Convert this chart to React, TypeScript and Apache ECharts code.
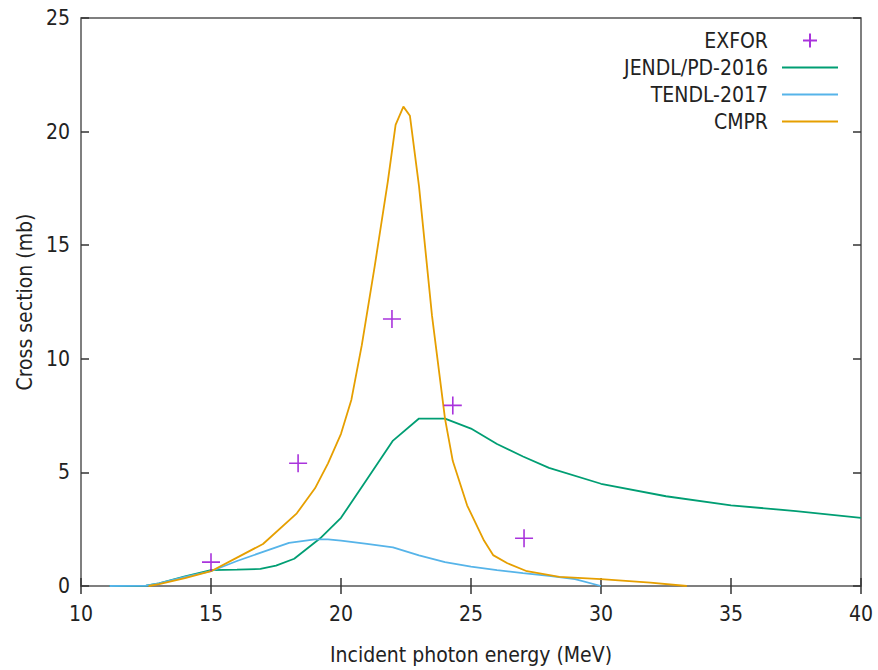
import React, { useEffect, useRef } from "react";
import * as echarts from "echarts";

const exforX = [15.0, 18.35, 21.96, 24.3, 27.04];
const exforY = [1.05, 5.4, 11.75, 7.95, 2.1];

const jendlX = [11.1, 12.5, 13, 14, 15, 16, 16.9, 17.5, 18.2, 19.2, 20, 21, 22, 23, 24, 25, 26, 27, 28, 30, 32.5, 35, 37.5, 40];
const jendlY = [0, 0.02, 0.12, 0.42, 0.7, 0.72, 0.75, 0.9, 1.2, 2.1, 3.0, 4.7, 6.4, 7.37, 7.37, 6.93, 6.25, 5.7, 5.2, 4.5, 3.95, 3.55, 3.3, 3.0];

const tendlX = [11.1, 12.5, 13, 14, 15, 16, 17, 18, 19, 19.5, 20, 21, 22, 23, 24, 25, 26, 27, 28, 29, 30];
const tendlY = [0, 0.02, 0.12, 0.4, 0.65, 1.1, 1.5, 1.9, 2.05, 2.05, 2.0, 1.85, 1.7, 1.35, 1.05, 0.85, 0.7, 0.57, 0.45, 0.3, 0.0];

const cmprX = [12.6, 13, 14, 15, 16, 17, 18.3, 19, 19.5, 20, 20.4, 20.8, 21.3, 21.8, 22.1, 22.4, 22.65, 23, 23.5, 24, 24.3, 24.85, 25.5, 25.85, 26.4, 27.15, 28.4, 30, 31.9, 33.3];
const cmprY = [0, 0.08, 0.35, 0.65, 1.25, 1.85, 3.2, 4.3, 5.4, 6.7, 8.2, 10.6, 14.1, 17.8, 20.3, 21.1, 20.7, 17.6, 11.9, 7.37, 5.5, 3.55, 2.0, 1.36, 1.0, 0.65, 0.4, 0.3, 0.15, 0];

const xTicks = { min: 10, max: 40, interval: 5 };
const yTicks = { min: 0, max: 25, interval: 5 };

const seriesNames = ["EXFOR", "JENDL/PD-2016", "TENDL-2017", "CMPR"];
const colors = ["#9400d3", "#009e73", "#56b4e9", "#e69f00"];

const zip = (xs: number[], ys: number[]) => xs.map((x, i) => [x, ys[i]]);

const FONT = "'DejaVu Sans Condensed', 'DejaVu Sans', sans-serif";
const FS = 21;
const PLUS = "path://M0,5L10,5M5,0L5,10";

export default function App() {
  const ref = useRef<HTMLDivElement>(null);
  useEffect(() => {
    if (!ref.current) return;
    const chart = echarts.init(ref.current, null, { renderer: "svg" });
    const axisCommon = {
      axisLine: { show: false },
      splitLine: { show: false },
    };
    const tick = { inside: true, length: 8, lineStyle: { color: "#333", width: 1.5 } };
    chart.setOption({
      animation: false,
      backgroundColor: "#fff",
      textStyle: { fontFamily: FONT },
      grid: {
        left: 81,
        right: 17,
        top: 18,
        bottom: 82,
        show: true,
        borderColor: "#555",
        borderWidth: 1.5,
        backgroundColor: "transparent",
      },
      legend: {
        orient: "vertical",
        right: 34,
        top: 25,
        align: "right",
        itemWidth: 56,
        itemHeight: 14,
        itemGap: 6,
        textStyle: { fontFamily: FONT, fontSize: FS, color: "#222", padding: [0, 9, 0, 0] },
        data: seriesNames.map((n, i) =>
          i === 0 ? { name: n } : { name: n, itemStyle: { opacity: 0 } }
        ),
      },
      xAxis: [
        {
          type: "value",
          ...xTicks,
          ...axisCommon,
          position: "bottom",
          name: "Incident photon energy (MeV)",
          nameLocation: "middle",
          nameGap: 58,
          nameTextStyle: { fontFamily: FONT, fontSize: FS, color: "#222" },
          axisTick: tick,
          axisLabel: { margin: 17, fontFamily: FONT, fontSize: FS, color: "#222" },
        },
        {
          type: "value",
          ...xTicks,
          ...axisCommon,
          position: "top",
          axisTick: tick,
          axisLabel: { show: false },
        },
      ],
      yAxis: [
        {
          type: "value",
          ...yTicks,
          ...axisCommon,
          position: "left",
          name: "Cross section (mb)",
          nameLocation: "middle",
          nameGap: 46,
          nameTextStyle: { fontFamily: FONT, fontSize: FS, color: "#222" },
          axisTick: tick,
          axisLabel: { margin: 11, fontFamily: FONT, fontSize: FS, color: "#222" },
        },
        {
          type: "value",
          ...yTicks,
          ...axisCommon,
          position: "right",
          axisTick: tick,
          axisLabel: { show: false },
        },
      ],
      series: [
        {
          name: seriesNames[0],
          type: "scatter",
          data: zip(exforX, exforY),
          symbol: PLUS,
          symbolSize: 18,
          itemStyle: { color: "transparent", borderColor: colors[0], borderWidth: 1.6 },
          z: 5,
        },
        {
          name: seriesNames[1],
          type: "line",
          data: zip(jendlX, jendlY),
          showSymbol: false,
          symbol: "none",
          lineStyle: { color: colors[1], width: 1.8 },
          itemStyle: { color: colors[1] },
        },
        {
          name: seriesNames[2],
          type: "line",
          data: zip(tendlX, tendlY),
          showSymbol: false,
          symbol: "none",
          lineStyle: { color: colors[2], width: 1.8 },
          itemStyle: { color: colors[2] },
        },
        {
          name: seriesNames[3],
          type: "line",
          data: zip(cmprX, cmprY),
          showSymbol: false,
          symbol: "none",
          lineStyle: { color: colors[3], width: 1.8 },
          itemStyle: { color: colors[3] },
        },
      ],
    });
    return () => chart.dispose();
  }, []);
  return (
    <div
      ref={ref}
      style={{ position: "fixed", left: 0, top: 0, width: 878, height: 670, background: "#fff" }}
    />
  );
}
